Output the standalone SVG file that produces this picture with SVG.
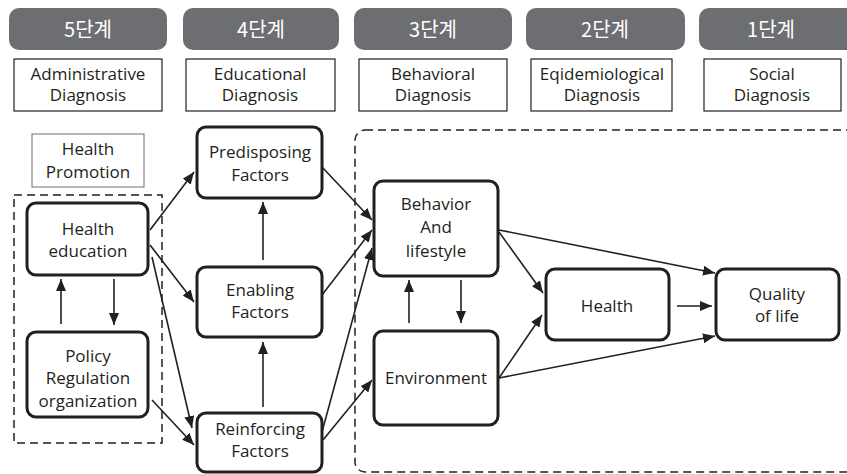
<svg xmlns="http://www.w3.org/2000/svg" width="847" height="474" viewBox="0 0 847 474">
<style>
.pill{fill:#6d6e71}
.pt{font-family:"Noto Sans CJK KR","Noto Sans",sans-serif;font-size:20px;fill:#fff;text-anchor:middle}
.sub{fill:#fff;stroke:#231f20;stroke-width:1.2}
.t{font-family:"Open Sans","Liberation Sans",sans-serif;font-size:17px;fill:#231f20;text-anchor:middle}
.node{fill:#fff;stroke:#231f20;stroke-width:3}
.dash{fill:none;stroke:#231f20;stroke-width:1.5;stroke-dasharray:8 5}
.c line{stroke:#231f20;stroke-width:1.6;marker-end:url(#ah)}
</style>
<defs>
<marker id="ah" viewBox="0 0 12 10" refX="12" refY="5" markerWidth="12" markerHeight="10" markerUnits="userSpaceOnUse" orient="auto">
<path d="M0,0 L12,5 L0,10 z" fill="#231f20"/>
</marker>
</defs>
<rect width="847" height="474" fill="#fff"/>

<g id="stages">
<rect class="pill" x="9" y="8" width="158" height="42" rx="10"/>
<text class="pt" x="88" y="37">5단계</text>
<rect class="pill" x="183" y="8" width="156" height="42" rx="10"/>
<text class="pt" x="261" y="37">4단계</text>
<rect class="pill" x="354" y="8" width="158" height="42" rx="10"/>
<text class="pt" x="433" y="37">3단계</text>
<rect class="pill" x="526" y="8" width="159" height="42" rx="10"/>
<text class="pt" x="605" y="37">2단계</text>
<rect class="pill" x="699" y="8" width="160" height="42" rx="10"/>
<text class="pt" x="771" y="37">1단계</text>
</g>

<g id="diagnoses">
<rect class="sub" x="14" y="59" width="148" height="52"/>
<text class="t" x="88" y="80">Administrative</text>
<text class="t" x="88" y="101">Diagnosis</text>
<rect class="sub" x="186" y="59" width="149" height="52"/>
<text class="t" x="260" y="80">Educational</text>
<text class="t" x="260" y="101">Diagnosis</text>
<rect class="sub" x="359" y="59" width="148" height="52"/>
<text class="t" x="433" y="80">Behavioral</text>
<text class="t" x="433" y="101">Diagnosis</text>
<rect class="sub" x="531" y="59" width="141" height="52"/>
<text class="t" x="602" y="80">Eqidemiological</text>
<text class="t" x="602" y="101">Diagnosis</text>
<rect class="sub" x="704" y="59" width="137" height="52"/>
<text class="t" x="772" y="80">Social</text>
<text class="t" x="772" y="101">Diagnosis</text>
</g>

<g id="health-promotion">
<rect x="32" y="134" width="112" height="53" fill="#fff" stroke="#6d6e71" stroke-width="1"/>
<text class="t" x="88" y="155">Health</text>
<text class="t" x="88" y="178">Promotion</text>
</g>

<rect id="group-left" class="dash" x="14" y="195" width="148" height="248"/>
<rect id="group-right" class="dash" x="355" y="130" width="520" height="342" rx="10"/>

<g id="health-education">
<rect class="node" x="27" y="203" width="121" height="72" rx="9"/>
<text class="t" x="88" y="235">Health</text>
<text class="t" x="88" y="257">education</text>
</g>
<g id="policy">
<rect class="node" x="27" y="332" width="121" height="85" rx="9"/>
<text class="t" x="88" y="362">Policy</text>
<text class="t" x="88" y="384">Regulation</text>
<text class="t" x="88" y="407">organization</text>
</g>
<g id="predisposing">
<rect class="node" x="197" y="127" width="125" height="71" rx="9"/>
<text class="t" x="260" y="158">Predisposing</text>
<text class="t" x="260" y="181">Factors</text>
</g>
<g id="enabling">
<rect class="node" x="197" y="267" width="125" height="70" rx="9"/>
<text class="t" x="260" y="296">Enabling</text>
<text class="t" x="260" y="318">Factors</text>
</g>
<g id="reinforcing">
<rect class="node" x="197" y="413" width="125" height="59" rx="9"/>
<text class="t" x="260" y="435">Reinforcing</text>
<text class="t" x="260" y="457">Factors</text>
</g>
<g id="behavior">
<rect class="node" x="374" y="181" width="124" height="95" rx="9"/>
<text class="t" x="436" y="210">Behavior</text>
<text class="t" x="436" y="233">And</text>
<text class="t" x="436" y="257">lifestyle</text>
</g>
<g id="environment">
<rect class="node" x="374" y="331" width="124" height="94" rx="9"/>
<text class="t" x="436" y="384">Environment</text>
</g>
<g id="health">
<rect class="node" x="546" y="269" width="123" height="71" rx="9"/>
<text class="t" x="607" y="312">Health</text>
</g>
<g id="quality">
<rect class="node" x="716" y="269" width="123" height="71" rx="9"/>
<text class="t" x="777" y="300">Quality</text>
<text class="t" x="777" y="322">of life</text>
</g>

<g id="connectors" class="c">
<line x1="150" y1="230" x2="194" y2="172"/>
<line x1="150" y1="245" x2="194" y2="302"/>
<line x1="152" y1="257" x2="192" y2="428"/>
<line x1="152" y1="400" x2="194" y2="445"/>
<line x1="61" y1="324" x2="61" y2="279"/>
<line x1="114" y1="279" x2="114" y2="325"/>
<line x1="263" y1="260" x2="263" y2="202"/>
<line x1="263" y1="407" x2="263" y2="342"/>
<line x1="322" y1="167" x2="372" y2="220"/>
<line x1="322" y1="295" x2="372" y2="230"/>
<line x1="322" y1="432" x2="372" y2="248"/>
<line x1="323" y1="440" x2="372" y2="380"/>
<line x1="409" y1="323" x2="409" y2="280"/>
<line x1="461" y1="280" x2="461" y2="323"/>
<line x1="499" y1="232" x2="543" y2="293"/>
<line x1="499" y1="230" x2="715" y2="273"/>
<line x1="499" y1="378" x2="542" y2="315"/>
<line x1="499" y1="378" x2="715" y2="336"/>
<line x1="677" y1="306" x2="712" y2="306"/>
</g>
</svg>
